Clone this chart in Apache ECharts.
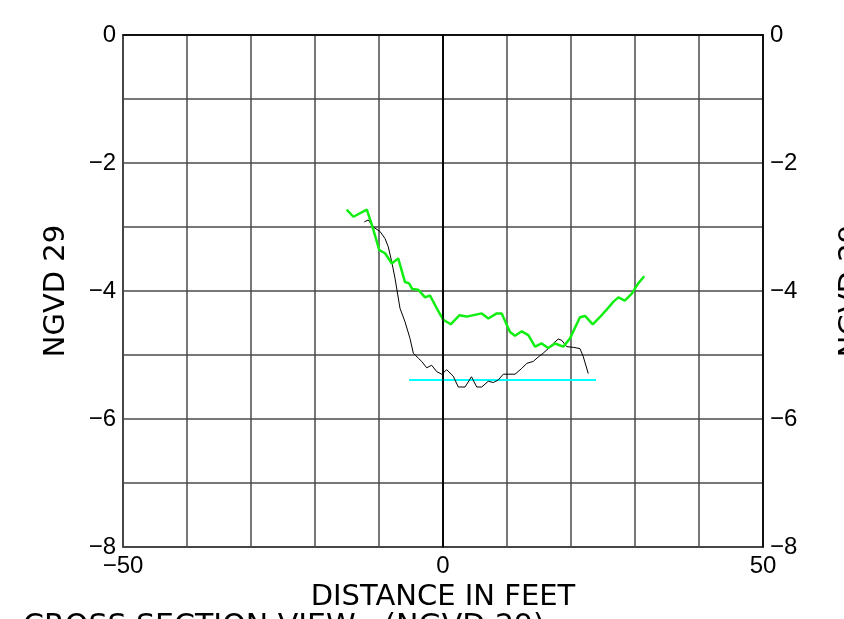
<!DOCTYPE html>
<html>
<head>
<meta charset="utf-8">
<script src="https://cdn.jsdelivr.net/npm/echarts@6/dist/echarts.min.js"></script>
<style>html,body{margin:0;padding:0;background:#fff;}#c{width:844px;height:619px;}</style>
</head>
<body>
<div id="c"></div>
<script>
const greenX = [-15.05,-14.0,-11.9,-11.1,-9.95,-9.06,-8.0,-7.0,-5.94,-5.3,-4.8,-3.86,-2.81,-2.03,-0.98,0.05,1.2,2.55,3.7,6.05,7.08,8.4,9.17,10.47,11.25,12.3,13.33,14.38,15.42,16.45,17.5,18.8,19.84,21.4,22.2,23.4,24.5,25.5,26.6,27.4,28.4,29.5,30.5,31.45];
const greenY = [-2.73,-2.84,-2.73,-2.97,-3.36,-3.41,-3.57,-3.49,-3.86,-3.88,-3.97,-3.98,-4.10,-4.07,-4.27,-4.45,-4.52,-4.38,-4.40,-4.35,-4.43,-4.35,-4.35,-4.64,-4.70,-4.63,-4.69,-4.87,-4.82,-4.89,-4.82,-4.87,-4.74,-4.41,-4.39,-4.52,-4.41,-4.30,-4.17,-4.10,-4.15,-4.04,-3.88,-3.77];
const blackX = [-12.3,-12.03,-11.67,-10.9,-9.84,-9.06,-8.55,-8.02,-7.5,-6.72,-5.94,-5.16,-4.64,-3.86,-3.33,-2.55,-1.77,-0.98,-0.2,0.58,1.6,2.39,3.44,4.45,5.27,6.05,7.08,7.86,8.64,9.42,11.25,12.3,13.1,14.1,14.9,15.67,16.45,17.23,18.0,18.55,19.33,20.36,21.4,21.9,22.7];
const blackY = [-2.92,-2.89,-2.89,-3.0,-3.07,-3.18,-3.31,-3.54,-3.80,-4.27,-4.48,-4.74,-4.97,-5.05,-5.10,-5.20,-5.16,-5.26,-5.30,-5.23,-5.33,-5.50,-5.50,-5.34,-5.50,-5.50,-5.41,-5.43,-5.39,-5.30,-5.30,-5.21,-5.13,-5.10,-5.03,-4.97,-4.90,-4.82,-4.75,-4.77,-4.87,-4.88,-4.90,-5.02,-5.29];
const cyanX = [-5.3, 23.9];
const cyanY = [-5.39, -5.39];
const xLabels = [-50, 0, 50];
const yLabels = [0, -2, -4, -6, -8];
const xTitle = 'DISTANCE IN FEET';
const yTitle = 'NGVD 29';
const bottomTitle = 'CROSS SECTION VIEW   (NGVD 29)';

const zip = (a, b) => a.map((v, i) => [v, b[i]]);
const fmt = v => (v < 0 ? '\u2212' + Math.abs(v) : String(v));
const labelFont = { fontFamily: 'Liberation Sans', fontSize: 24, color: '#000' };
const nameFont = { fontFamily: 'DejaVu Sans', fontSize: 29, color: '#000' };
const gridLine = { show: true, lineStyle: { color: '#4a4a4a', width: 1.5 } };

const chart = echarts.init(document.getElementById('c'), null, { renderer: 'canvas' });
chart.setOption({
  animation: false,
  backgroundColor: '#fff',
  title: {
    text: bottomTitle, left: 18, top: 607,
    textStyle: Object.assign({}, nameFont, { fontSize: 30, fontWeight: 'normal' })
  },
  grid: { left: 123, top: 35, width: 640, height: 512, show: true, borderColor: '#000', borderWidth: 1.5, outerBoundsMode: 'none', containLabel: false },
  xAxis: {
    type: 'value', min: -50, max: 50, interval: 10,
    axisLine: { show: true, lineStyle: { color: '#000', width: 1.5 } },
    axisTick: { show: false },
    splitLine: gridLine,
    axisLabel: Object.assign({ margin: 7, formatter: v => xLabels.includes(v) ? fmt(v) : '' }, labelFont),
    name: xTitle, nameLocation: 'middle', nameGap: 34, nameTextStyle: nameFont
  },
  yAxis: [{
    type: 'value', min: -8, max: 0, interval: 1, position: 'left',
    axisLine: { show: true, lineStyle: { color: '#000', width: 1.5 } },
    axisTick: { show: false },
    splitLine: gridLine,
    axisLabel: Object.assign({ margin: 7, formatter: v => yLabels.includes(v) ? fmt(v) : '' }, labelFont),
    name: yTitle, nameLocation: 'middle', nameGap: 52, nameRotate: 90, nameTextStyle: nameFont
  }, {
    type: 'value', min: -8, max: 0, interval: 1, position: 'right',
    axisLine: { show: true, lineStyle: { color: '#000', width: 1.5 } },
    axisTick: { show: false },
    splitLine: { show: false },
    axisLabel: Object.assign({ margin: 7, formatter: v => yLabels.includes(v) ? fmt(v) : '' }, labelFont),
    name: yTitle, nameLocation: 'middle', nameGap: 74, nameRotate: 90, nameTextStyle: nameFont
  }],
  series: [{
    type: 'line', data: zip(cyanX, cyanY), showSymbol: false, symbol: 'none',
    lineStyle: { color: '#00ffff', width: 2 }
  }, {
    type: 'line', data: zip(blackX, blackY), showSymbol: false, symbol: 'none',
    lineStyle: { color: '#000', width: 1 },
    markLine: { silent: true, symbol: 'none', label: { show: false },
      lineStyle: { color: '#000', width: 1.5, type: 'solid' }, data: [{ xAxis: 0 }] }
  }, {
    type: 'line', data: zip(greenX, greenY), showSymbol: false, symbol: 'none',
    lineStyle: { color: '#11ee11', width: 2.5 }
  }]
});
</script>
</body>
</html>
